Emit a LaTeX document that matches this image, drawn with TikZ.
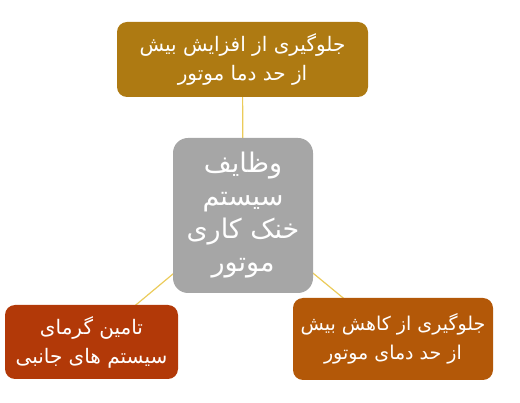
\documentclass[tikz,border=0pt]{standalone}
\usepackage{fontspec}
\usepackage{tikz}
\usetikzlibrary{backgrounds}
\newfontfamily\arabicfont[Script=Arabic]{DejaVu Sans}
\TeXXeTstate=1
\definecolor{goldbox}{HTML}{AE7A12}
\definecolor{greybox}{HTML}{A6A6A6}
\definecolor{redbox}{HTML}{B23908}
\definecolor{orangebox}{HTML}{B35808}
\definecolor{linkline}{HTML}{EBCB5A}
\tikzset{
  taskbox/.style={rounded corners=10pt, text=white, align=center, inner sep=0pt,
    font=\arabicfont\fontsize{20}{29}\selectfont},
  link/.style={draw=linkline, line width=1.2pt}
}

\begin{document}
\begin{tikzpicture}[x=1pt,y=-1pt]
\useasboundingbox (0,0) rectangle (520,403);
\node (core) at (243,215.5) [taskbox, fill=greybox, rounded corners=15pt,
  minimum width=140pt, minimum height=155pt,
  font=\arabicfont\fontsize{27}{33}\selectfont]
  {\beginR وظایف\endR\\\beginR سیستم\endR\\\beginR خنک کاری\endR\\\beginR موتور\endR};
\node (over) at (242.5,59.5) [taskbox, fill=goldbox, minimum width=251pt, minimum height=75pt]
  {\beginR جلوگیری از افزایش بیش\endR\\\beginR از حد دما موتور\endR};
\node (heat) at (91.5,342) [taskbox, fill=redbox, minimum width=173pt, minimum height=74pt]
  {\beginR تامین گرمای\endR\\\beginR سیستم  های جانبی\endR};
\node (under) at (393,339) [taskbox, fill=orangebox, minimum width=200pt, minimum height=82pt,
  font=\arabicfont\fontsize{19}{29}\selectfont]
  {\beginR جلوگیری از کاهش بیش\endR\\\beginR از حد دمای موتور\endR};
% links behind the boxes
\begin{scope}[on background layer]
\draw [link] (core.center) -- (over.center);
\draw [link] (core.center) -- (heat.center);
\draw [link] (core.center) -- (under.center);
\end{scope}
\end{tikzpicture}
\end{document}
